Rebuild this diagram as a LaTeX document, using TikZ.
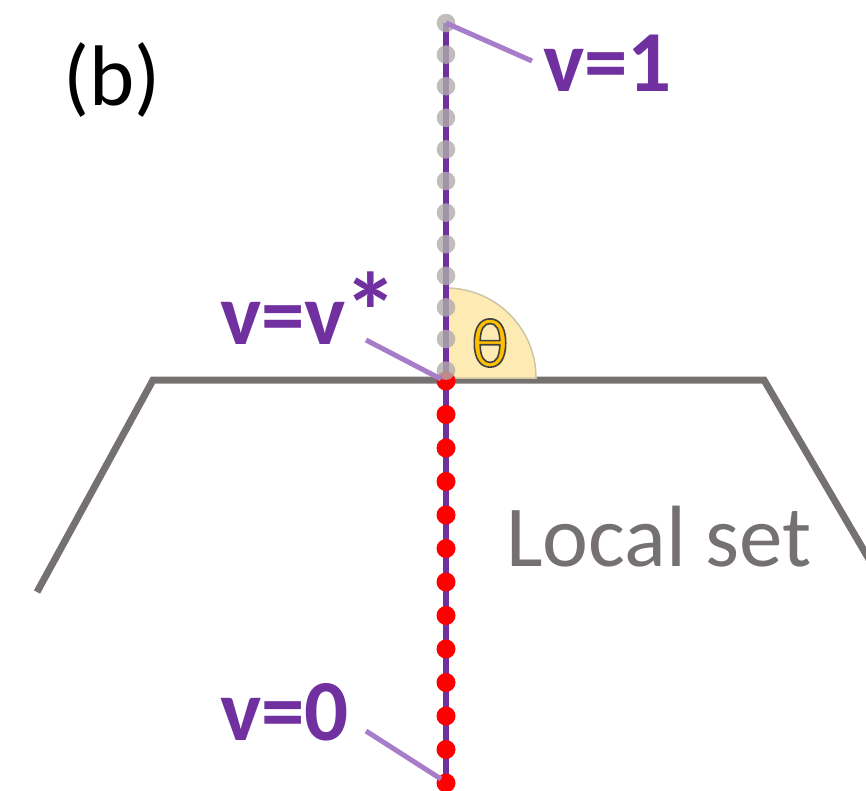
\documentclass[tikz,border=0pt]{standalone}
\usepackage{fontspec}
\setmainfont{Carlito}
\definecolor{vpurple}{HTML}{7030A0}
\definecolor{lpurple}{HTML}{A77CC8}
\definecolor{setgrey}{HTML}{767171}
\definecolor{dotgrey}{HTML}{B0ACAC}
\definecolor{wedge}{HTML}{FDEBB3}
\definecolor{wedgeedge}{HTML}{CFC6A6}
\definecolor{thetaor}{HTML}{FFC000}
\newcommand{\outlinedtext}[1]{\special{pdf:literal 2 Tr 1.6 w 0.25 0.25 0.25 RG}#1\special{pdf:literal 0 Tr}}
\tikzset{
  lbl/.style={text=vpurple, font=\bfseries\fontsize{87}{87}\selectfont, anchor=base west, inner sep=0pt},
  leader/.style={draw=lpurple, line width=5pt},
  reddot/.style={fill=red},
  greydot/.style={fill=dotgrey, fill opacity=0.8},
}
\begin{document}
\begin{tikzpicture}[x=1pt,y=-1pt]
\useasboundingbox (0,0) rectangle (866,790);
% local set boundary
\draw[setgrey, line width=7pt, line join=miter] (37,592) -- (153,380) -- (764,380) -- (880,578);
% angle wedge
\fill[wedge, draw=wedgeedge, line width=1.5pt] (446,378) -- (536,378) arc[start angle=0, end angle=-90, radius=90] -- cycle;
\node[text=thetaor, inner sep=0pt] (theta) at (490,343) {\fontsize{70}{70}\selectfont\outlinedtext{θ}};
% vertical line
\draw[vpurple, line width=5.5pt] (446,23) -- (446,790);
\foreach \i in {0,...,12} { \fill[reddot] (446,{381+\i*33.5}) circle[radius=9.5]; }
\foreach \i in {0,...,11} { \fill[greydot] (446,{23+\i*31.6}) circle[radius=9.3]; }
% points
\coordinate (p1) at (446,23);
\coordinate (pstar) at (441,379);
\coordinate (p0) at (441,779);
\coordinate (l1) at (532,61);
\coordinate (lstar) at (366,340);
\coordinate (l0) at (366,731);
\draw[leader] (p1) -- (l1);
\draw[leader] (lstar) -- (pstar);
\draw[leader] (l0) -- (p0);
% labels
\node[lbl] (v1) at (543,91) {v=1};
\node[lbl] (vstar) at (220,344) {v=v\kern-2pt\raisebox{-6pt}{\fontsize{110}{110}\selectfont*}};
\node[lbl] (v0) at (220,740) {v=0};
\node[anchor=base west, inner sep=0pt, font=\fontsize{86}{86}\selectfont] (b) at (63,105) {(b)};
\node[anchor=base west, inner sep=0pt, text=setgrey, font=\fontsize{87}{87}\selectfont] (ls) at (506,566) {Local set};
\end{tikzpicture}
\end{document}
